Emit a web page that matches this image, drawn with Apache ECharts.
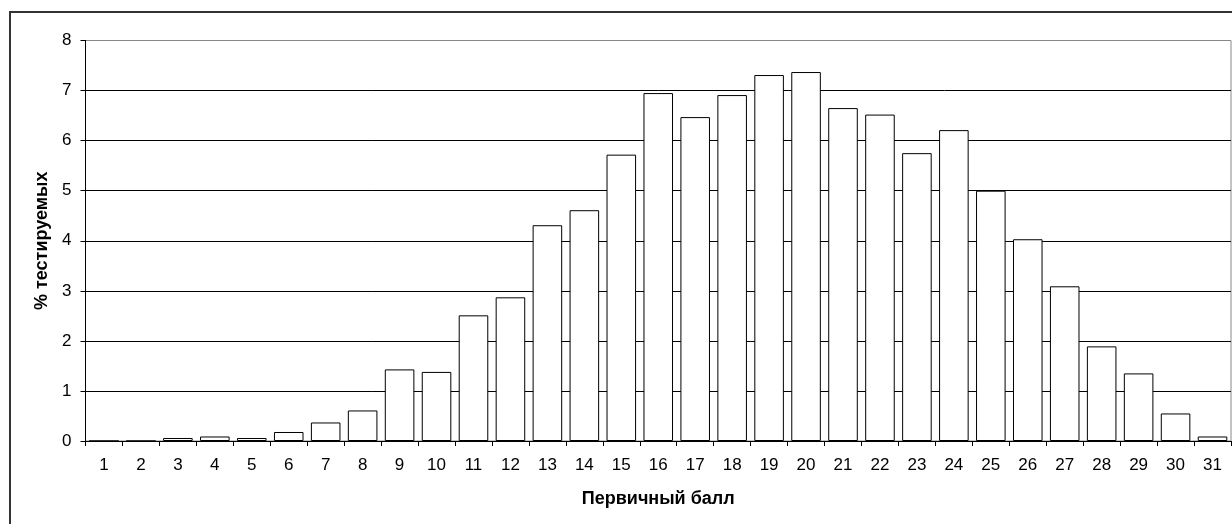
<!DOCTYPE html>
<html>
<head>
<meta charset="utf-8">
<script src="https://cdn.jsdelivr.net/npm/echarts@6/dist/echarts.min.js"></script>
<style>
  html, body { margin: 0; padding: 0; background: #fff; }
  #chart { width: 1232px; height: 524px; }
</style>
</head>
<body>
<div id="chart"></div>
<script>
  // первичный балл 1..31
  var scores = ['1','2','3','4','5','6','7','8','9','10','11','12','13','14','15','16',
    '17','18','19','20','21','22','23','24','25','26','27','28','29','30','31'];
  // % тестируемых
  var percents = [0, 0, 0.06, 0.09, 0.06, 0.18, 0.37, 0.61, 1.43, 1.38, 2.51, 2.87, 4.31, 4.61,
    5.72, 6.95, 6.47, 6.91, 7.31, 7.37, 6.65, 6.52, 5.75, 6.21, 5.0, 4.03, 3.09, 1.89, 1.35, 0.55, 0.09];
  var yTicks = [0, 8, 1];

  var chart = echarts.init(document.getElementById('chart'));
  var font = 'Arial, "Liberation Sans", sans-serif';
  var option = {
    animation: false,
    backgroundColor: '#fff',
    textStyle: { fontFamily: font },
    graphic: [{
      type: 'rect',
      shape: { x: 10, y: 12, width: 1240, height: 540 },
      style: { fill: 'none', stroke: '#333', lineWidth: 2 },
      z: 100
    }],
    grid: {
      left: 85.5, top: 40.5, right: 1, bottom: 83,
      show: true, borderColor: '#888', borderWidth: 1, backgroundColor: 'transparent'
    },
    xAxis: {
      type: 'category',
      data: scores,
      name: 'Первичный балл',
      nameLocation: 'middle',
      nameGap: 49,
      nameTextStyle: { fontSize: 18, fontWeight: 'bold', color: '#000', fontFamily: font },
      axisLine: { lineStyle: { color: '#000', width: 1 } },
      axisTick: { show: true, length: 5, lineStyle: { color: '#000' } },
      axisLabel: { fontSize: 17, color: '#000', margin: 16, interval: 0 },
      splitLine: { show: false }
    },
    yAxis: {
      type: 'value',
      min: yTicks[0], max: yTicks[1], interval: yTicks[2],
      name: '% тестируемых',
      nameLocation: 'middle',
      nameGap: 33,
      nameRotate: 90,
      nameTextStyle: { fontSize: 18, fontWeight: 'bold', color: '#000', fontFamily: font },
      axisLine: { show: true, lineStyle: { color: '#000', width: 1 } },
      axisTick: { show: true, length: 5, lineStyle: { color: '#000' } },
      axisLabel: { fontSize: 17, color: '#000', margin: 14 },
      splitLine: {
        show: true,
        lineStyle: { color: ['#000', '#000', '#000', '#000', '#000', '#000', '#000', '#000', '#888'], width: 1 }
      }
    },
    series: [{
      type: 'bar',
      data: percents,
      barCategoryGap: '20%',
      itemStyle: { color: '#fff', borderColor: '#000', borderWidth: 1 },
      z: 3
    }]
  };
  chart.setOption(option);
</script>
</body>
</html>
